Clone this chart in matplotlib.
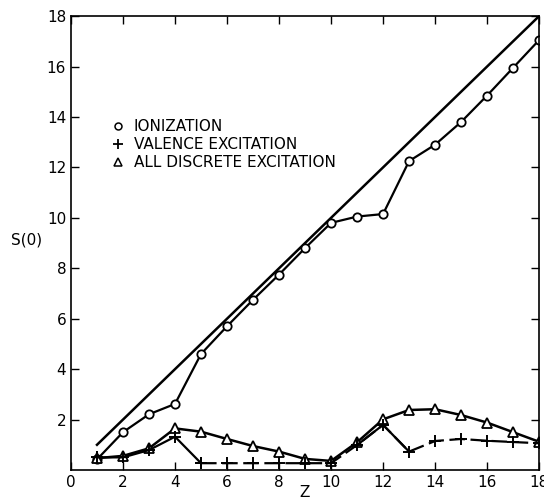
import matplotlib
matplotlib.use("Agg")
import matplotlib.pyplot as plt
from matplotlib.lines import Line2D

z = list(range(1, 19))
ionization = [0.42, 1.5, 2.21, 2.62, 4.6, 5.7, 6.75, 7.75, 8.8, 9.8,
              10.05, 10.15, 12.25, 12.9, 13.8, 14.85, 15.95, 17.05]
valence = [0.5, 0.5, 0.79, 1.32, 0.27, 0.27, 0.27, 0.27, 0.27, 0.27,
           0.99, 1.79, 0.73, 1.15, 1.23, 1.16, 1.11, 1.06]
discrete = [0.47, 0.56, 0.86, 1.65, 1.52, 1.23, 0.95, 0.73, 0.44, 0.36,
            1.1, 2.01, 2.38, 2.41, 2.18, 1.88, 1.5, 1.12]
limit_z = [1, 18]
limit_s = [1, 18]

xticks = list(range(0, 19, 2))
yticks = list(range(2, 19, 2))

fig = plt.figure(figsize=(5.44, 5.03), dpi=100)
ax = fig.add_axes([0.1305, 0.0656, 0.8605, 0.9024])

ax.plot(limit_z, limit_s, color="black", lw=1.8)
ax.plot(z, ionization, color="black", lw=1.6, marker="o", ms=6,
        mfc="white", mec="black", mew=1.3)
ax.plot(z, discrete, color="black", lw=1.8, marker="^", ms=6.5,
        mfc="white", mec="black", mew=1.3)
ax.plot(z[:5], valence[:5], color="black", lw=1.6, marker="+", ms=8.5, mew=1.4)
ax.plot(z[4:], valence[4:], color="black", lw=1.6, marker="+", ms=8.5, mew=1.4,
        linestyle=(0, (7, 2.5)))
ax.plot(z[10:13], valence[10:13], color="black", lw=1.6)

ax.set_xlim(0, 18)
ax.set_ylim(0, 18)
ax.set_xticks(xticks)
ax.set_yticks(yticks)
ax.tick_params(direction="in", length=6, width=1, top=True, right=True,
               labelsize=11)
for s in ax.spines.values():
    s.set_linewidth(1.2)

ax.set_xlabel("Z", fontsize=11, labelpad=-3.5)
ax.set_ylabel("S(0)", fontsize=11, rotation=0, labelpad=0)
ax.yaxis.set_label_coords(-0.095, 0.49)

handles = [
    Line2D([], [], ls="none", marker="o", ms=5, mfc="white", mec="black", mew=1.1),
    Line2D([], [], ls="none", marker="+", ms=7, mec="black", mew=1.3),
    Line2D([], [], ls="none", marker="^", ms=5.5, mfc="white", mec="black", mew=1.1),
]
labels = ["IONIZATION", "VALENCE EXCITATION", "ALL DISCRETE EXCITATION"]
ax.legend(handles, labels, loc="upper left", bbox_to_anchor=(0.075, 0.79),
          frameon=False, fontsize=11, handlelength=0.6, handletextpad=0.7,
          labelspacing=0.2, borderpad=0)

fig.savefig("out.png", dpi=100)
